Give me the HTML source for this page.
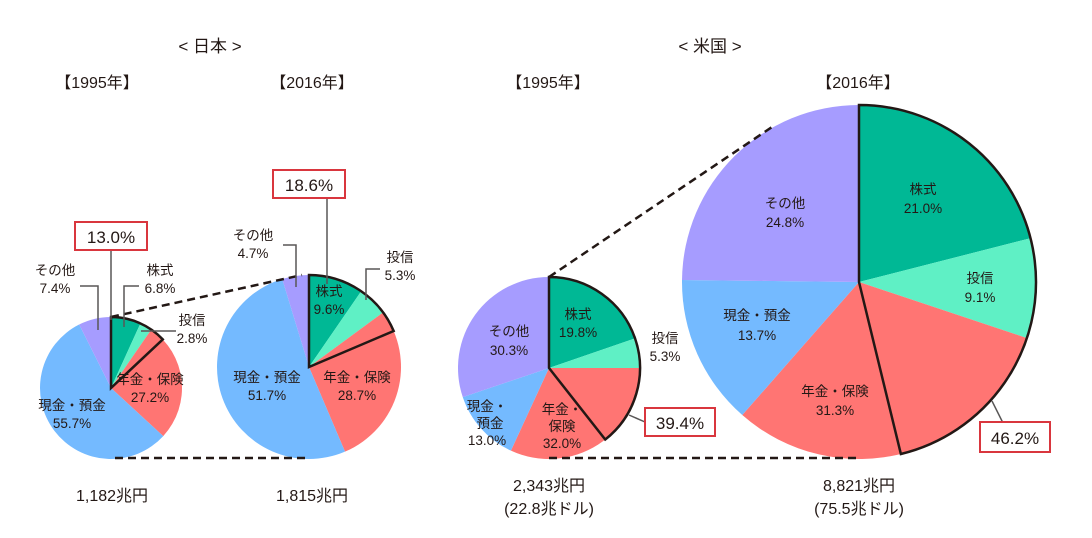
<!DOCTYPE html>
<html><head><meta charset="utf-8">
<style>
html,body{margin:0;padding:0;background:#fff;}
svg{display:block;font-family:"Liberation Sans","Noto Sans CJK JP",sans-serif;}
text{fill:#231815;}
</style></head>
<body>
<svg id="chart" width="1092" height="538" viewBox="0 0 1092 538">
<g id="pies"></g>
<g id="decor" fill="none" stroke="#231815">
  <line x1="111" y1="317" x2="302" y2="275" stroke-width="2.5" stroke-dasharray="8,5"/>
  <line x1="115" y1="458" x2="309" y2="458" stroke-width="2.5" stroke-dasharray="8,5"/>
  <line x1="549" y1="277" x2="775" y2="125" stroke-width="2.5" stroke-dasharray="8,5"/>
  <line x1="549" y1="458" x2="859" y2="458" stroke-width="2.5" stroke-dasharray="8,5"/>
</g>
<g fill="none" stroke="#595757" stroke-width="1.5">
  <polyline points="111,250 111,320"/>
  <polyline points="80,286 98,286 98,330"/>
  <polyline points="139,286 124,286 124,327"/>
  <polyline points="176,331 141,331"/>
  <polyline points="327,198 327,284"/>
  <polyline points="283,245 296,245 296,287"/>
  <polyline points="380,269 366,269 366,300"/>
  <polyline points="629,415 645,422"/>
  <polyline points="992,401 1003,423"/>
</g>
<g font-size="16" text-anchor="middle">
  <text x="210" y="52" font-size="17">&lt; 日本 &gt;</text>
  <text x="710" y="52" font-size="17">&lt; 米国 &gt;</text>
  <text x="97" y="88">【1995年】</text>
  <text x="312" y="88">【2016年】</text>
  <text x="548" y="88">【1995年】</text>
  <text x="858" y="88">【2016年】</text>
  <text x="112" y="501">1,182兆円</text>
  <text x="312" y="501">1,815兆円</text>
  <text x="549" y="491">2,343兆円</text>
  <text x="549" y="514">(22.8兆ドル)</text>
  <text x="859" y="491">8,821兆円</text>
  <text x="859" y="514">(75.5兆ドル)</text>
</g>
<g fill="#fff" stroke="#d9363e" stroke-width="2">
  <rect x="75" y="222" width="72" height="28"/>
  <rect x="273" y="170" width="72" height="28"/>
  <rect x="645" y="408" width="70" height="28"/>
  <rect x="980" y="422" width="70" height="30"/>
</g>
<g font-size="17" text-anchor="middle">
  <text x="111" y="243">13.0%</text>
  <text x="309" y="191">18.6%</text>
  <text x="680" y="429">39.4%</text>
  <text x="1015" y="444">46.2%</text>
</g>
<g font-size="13.5" text-anchor="middle">
  <g>
    <text x="55" y="275">その他</text><text x="55" y="293">7.4%</text>
    <text x="160" y="275">株式</text><text x="160" y="293">6.8%</text>
    <text x="192" y="325">投信</text><text x="192" y="343">2.8%</text>
    <text x="72" y="410">現金・預金</text><text x="72" y="428">55.7%</text>
    <text x="150" y="384">年金・保険</text><text x="150" y="402">27.2%</text>
  </g>
  <g>
    <text x="253" y="240">その他</text><text x="253" y="258">4.7%</text>
    <text x="400" y="262">投信</text><text x="400" y="280">5.3%</text>
    <text x="329" y="296">株式</text><text x="329" y="314">9.6%</text>
    <text x="267" y="382">現金・預金</text><text x="267" y="400">51.7%</text>
    <text x="357" y="382">年金・保険</text><text x="357" y="400">28.7%</text>
  </g>
  <g>
    <text x="578" y="319">株式</text><text x="578" y="337">19.8%</text>
    <text x="665" y="343">投信</text><text x="665" y="361">5.3%</text>
    <text x="509" y="336">その他</text><text x="509" y="355">30.3%</text>
    <text x="487" y="411">現金・</text><text x="490" y="428">預金</text><text x="487" y="445">13.0%</text>
    <text x="562" y="414">年金・</text><text x="562" y="431">保険</text><text x="562" y="448">32.0%</text>
  </g>
  <g>
    <text x="923" y="194">株式</text><text x="923" y="213">21.0%</text>
    <text x="980" y="283">投信</text><text x="980" y="302">9.1%</text>
    <text x="785" y="208">その他</text><text x="785" y="227">24.8%</text>
    <text x="757" y="320">現金・預金</text><text x="757" y="340">13.7%</text>
    <text x="835" y="396">年金・保険</text><text x="835" y="415">31.3%</text>
  </g>
</g>
</svg>
<script>
// data: order = 株式, 投信, 年金・保険, 現金・預金, その他
const categories = ["株式","投信","年金・保険","現金・預金","その他"];
const jp1995 = [6.8, 2.8, 27.2, 55.7, 7.4];
const jp2016 = [9.6, 5.3, 28.7, 51.7, 4.7];
const us1995 = [19.8, 5.3, 32.0, 13.0, 30.3];
const us2016 = [21.0, 9.1, 31.3, 13.7, 24.8];
const highlights = [13.0, 18.6, 39.4, 46.2];

const colors = ["#00b895","#5ff0c5","#ff7573","#74baff","#a69cff"];
const pies = [
  {vals: jp1995, cx:111, cy:388, r:71, name:"japan-1995"},
  {vals: jp2016, cx:309, cy:367, r:92, name:"japan-2016"},
  {vals: us1995, cx:549, cy:368, r:91, name:"us-1995"},
  {vals: us2016, cx:859, cy:282, r:177, name:"us-2016"}
];
const NS = "http://www.w3.org/2000/svg";
const g = document.getElementById("pies");
function pt(cx,cy,r,frac){const a=frac*2*Math.PI;return [cx+r*Math.sin(a), cy-r*Math.cos(a)];}
function arcPath(cx,cy,r,f0,f1){
  const p0=pt(cx,cy,r,f0), p1=pt(cx,cy,r,f1);
  const large=(f1-f0)>0.5?1:0;
  return `M${cx},${cy} L${p0[0]},${p0[1]} A${r},${r} 0 ${large} 1 ${p1[0]},${p1[1]} Z`;
}
pies.forEach((p,pi)=>{
  const total=p.vals.reduce((a,b)=>a+b,0);
  let acc=0;
  p.vals.forEach((v,i)=>{
    const f0=acc/total, f1=(acc+v)/total; acc+=v;
    const path=document.createElementNS(NS,"path");
    path.setAttribute("d",arcPath(p.cx,p.cy,p.r,f0,f1));
    path.setAttribute("fill",colors[i]);
    
    
    g.appendChild(path);
  });
  const hf=highlights[pi]/100;
  const o=document.createElementNS(NS,"path");
  o.setAttribute("d",arcPath(p.cx,p.cy,p.r,0,hf));
  o.setAttribute("fill","none");
  o.setAttribute("stroke","#231815");
  o.setAttribute("stroke-width","2.5");
  o.setAttribute("stroke-linejoin","miter");
  
  
  g.appendChild(o);
});
</script>
</body></html>
